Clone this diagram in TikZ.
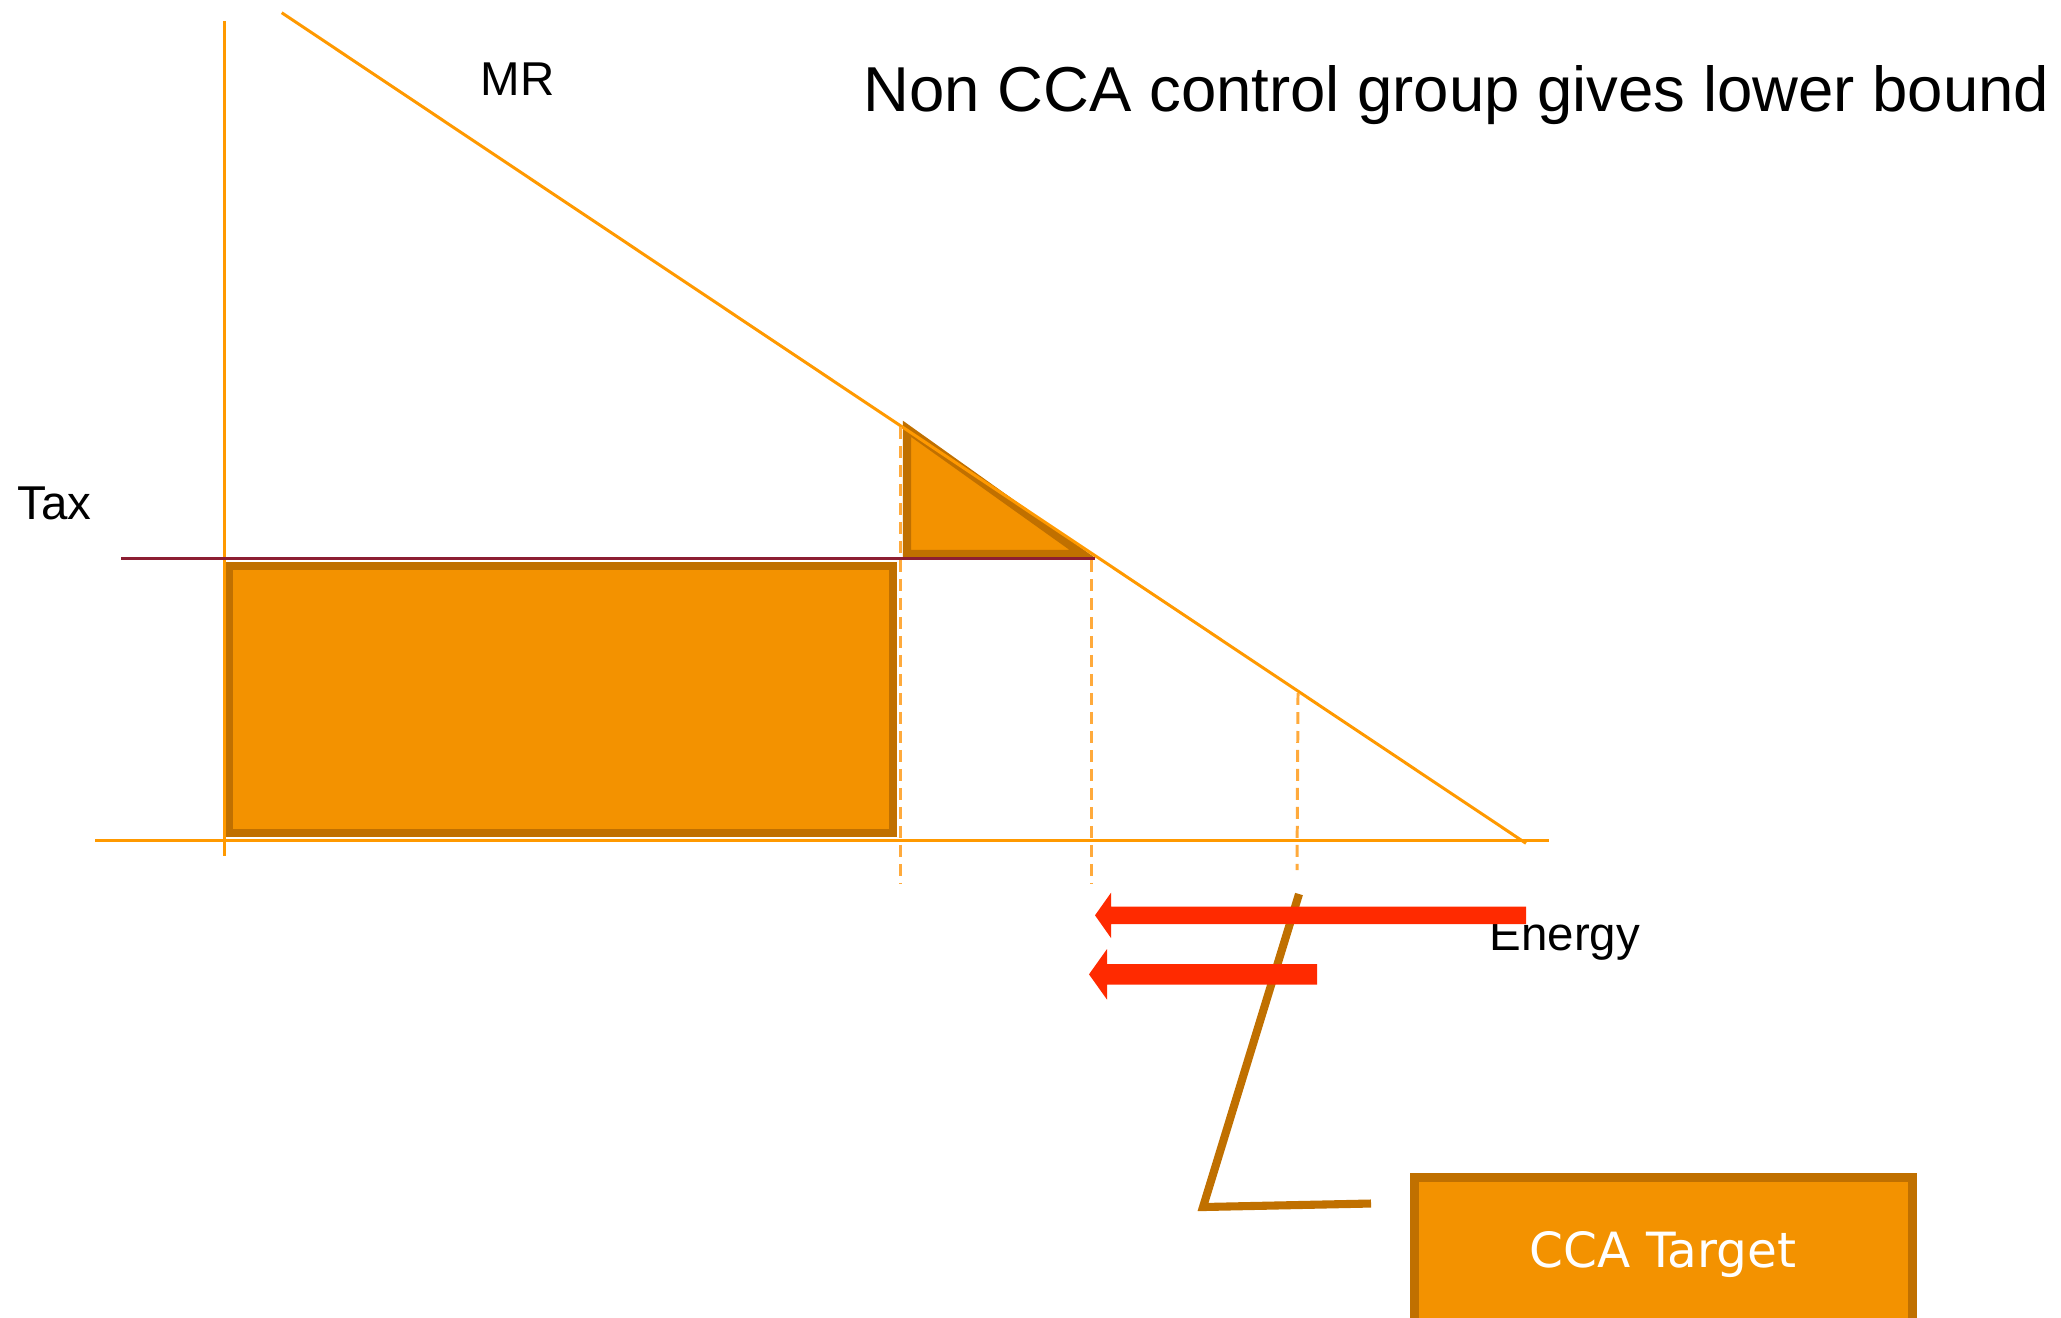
\documentclass[tikz,border=0pt]{standalone}
\usepackage{fontspec}
\setmainfont{Liberation Sans}
\newfontfamily\dejavu{DejaVu Sans}
\definecolor{fillor}{RGB}{243,146,0}
\definecolor{darkor}{RGB}{192,112,0}
\definecolor{axisor}{RGB}{255,153,0}
\definecolor{dashor}{RGB}{255,170,60}
\definecolor{taxred}{RGB}{140,30,50}
\definecolor{arrred}{RGB}{255,42,0}
\tikzset{
  axisline/.style={draw=axisor, line width=0.85pt},
  dashline/.style={draw=dashor, line width=0.85pt, dash pattern=on 3.4pt off 2pt},
  areabox/.style={fill=fillor, draw=darkor, line width=2.4pt, miter limit=20},
  bigarrow/.style={fill=arrred, draw=none},
  callout/.style={draw=darkor, line width=2.3pt, line join=miter},
  lbl/.style={inner sep=0pt, font=\fontsize{13.5pt}{16pt}\selectfont, text=black},
}
\begin{document}
\begin{tikzpicture}[x=0.01cm,y=-0.01cm]
\useasboundingbox (0,0) rectangle (2061,1317);

% labels
\node[lbl, anchor=base west, font=\fontsize{18.05pt}{21pt}\selectfont] (title) at (863,111.7) {Non CCA control group gives lower bound};
\node[lbl, anchor=base west] (mr) at (480,95) {MR};
\node[lbl, anchor=base west] (tax) at (17,519) {Tax};
\node[lbl, anchor=base west] (energy) at (1489,950) {Energy};

% areas
\draw[areabox] (229,566) rectangle (893,833);
\draw[areabox] (907,428.8) -- (907,554) -- (1082.5,554) -- cycle;

% axes
\coordinate (ytop) at (224.5,21);
\coordinate (ybot) at (224.5,856);
\coordinate (xl) at (95,840.7);
\coordinate (xr) at (1549,840.7);
\draw[axisline] (ytop) -- (ybot);
\draw[axisline] (xl) -- (xr);

% MR line
\coordinate (mrtop) at (281.7,12.7);
\coordinate (mrbot) at (1526,843.3);
\draw[axisline] (mrtop) -- (mrbot);

% tax line
\coordinate (taxl) at (121,558.3);
\coordinate (taxr) at (1095,558.3);
\draw[draw=taxred, line width=0.7pt] (taxl) -- (taxr);

% dashed verticals
\coordinate (d1t) at (900,427);
\coordinate (d1b) at (900,883);
\coordinate (d2t) at (1091,560);
\coordinate (d2b) at (1091,883);
\coordinate (d3t) at (1298,693);
\coordinate (d3b) at (1297,870);
\draw[dashline] (d1t) -- (d1b);
\draw[dashline] (d2t) -- (d2b);
\draw[dashline] (d3t) -- (d3b);

% callout line
\coordinate (c1) at (1299,894);
\coordinate (c2) at (1203,1207);
\coordinate (c3) at (1371,1203.5);
\draw[callout] (c1) -- (c2) -- (c3);

% red arrows
\fill[bigarrow] (1526,906.7) -- (1111,906.7) -- (1111,892.7) -- (1095,915.3) -- (1111,938) -- (1111,924) -- (1526,924) -- cycle;
\fill[bigarrow] (1317,964) -- (1107,964) -- (1107,949) -- (1089,974.3) -- (1107,999.6) -- (1107,984.7) -- (1317,984.7) -- cycle;

% CCA target box
\draw[areabox, line width=2.5pt] (1414.5,1177.5) rectangle (1912.5,1345);
\node[inner sep=0pt, anchor=base, text=white, font=\dejavu\fontsize{13.8pt}{16pt}\selectfont] (cca) at (1663,1267) {CCA Target};
\end{tikzpicture}
\end{document}
